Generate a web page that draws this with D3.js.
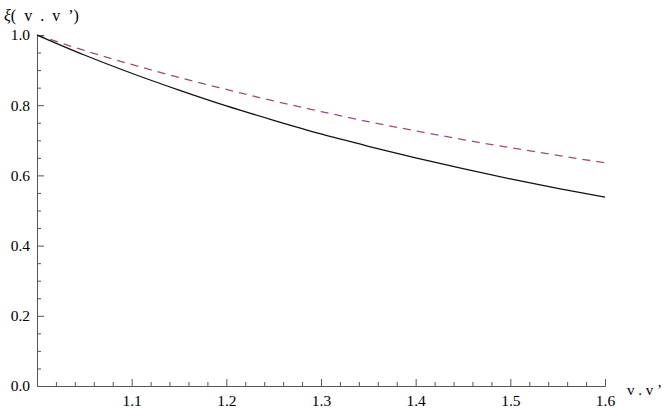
<!DOCTYPE html>
<html>
<head>
<meta charset="utf-8">
<script src="https://cdn.jsdelivr.net/npm/d3@7"></script>
<style>
  html, body { margin: 0; padding: 0; background: #fff; }
  svg { display: block; }
  svg text { font-family: 'Liberation Serif', 'Times New Roman', 'DejaVu Serif', serif !important; }
</style>
</head>
<body>
<svg id="chart" width="664" height="409"></svg>
<script>
// Data
const w = [1.00, 1.05, 1.10, 1.15, 1.20, 1.25, 1.30, 1.35, 1.40, 1.45, 1.50, 1.55, 1.60];
const solidValues  = [1.000, 0.943, 0.891, 0.843, 0.798, 0.757, 0.718, 0.683, 0.650, 0.619, 0.590, 0.563, 0.538];
const dashedValues = [1.000, 0.956, 0.916, 0.879, 0.845, 0.812, 0.782, 0.753, 0.727, 0.702, 0.679, 0.657, 0.636];
const xMajorTicks = [1.1, 1.2, 1.3, 1.4, 1.5, 1.6];
const yMajorTicks = [0.0, 0.2, 0.4, 0.6, 0.8, 1.0];
const xMinorTicks = [1.02,1.04,1.06,1.08,1.12,1.14,1.16,1.18,1.22,1.24,1.26,1.28,1.32,1.34,1.36,1.38,1.42,1.44,1.46,1.48,1.52,1.54,1.56,1.58];
const yMinorTicks = [0.05,0.1,0.15,0.25,0.3,0.35,0.45,0.5,0.55,0.65,0.7,0.75,0.85,0.9,0.95];

const svg = d3.select("#chart");
const x = d3.scaleLinear().domain([1.0, 1.6]).range([37, 605]);
const y = d3.scaleLinear().domain([0, 1]).range([386, 35]);
const axisColor = "#555";
const fmt = d3.format(".1f");

// Minor ticks
const xMinor = svg.append("g").attr("transform", `translate(0,${y(0)})`)
  .call(d3.axisBottom(x).tickValues(xMinorTicks).tickSize(-4).tickFormat("").tickSizeOuter(0));
const yMinor = svg.append("g").attr("transform", `translate(${x(1.0)},0)`)
  .call(d3.axisLeft(y).tickValues(yMinorTicks).tickSize(-4).tickFormat("").tickSizeOuter(0));

// Major axes
const xAxis = svg.append("g").attr("transform", `translate(0,${y(0)})`)
  .call(d3.axisBottom(x).tickValues(xMajorTicks).tickSize(-7).tickSizeOuter(0).tickPadding(9).tickFormat(fmt));
const yAxis = svg.append("g").attr("transform", `translate(${x(1.0)},0)`)
  .call(d3.axisLeft(y).tickValues(yMajorTicks).tickSize(-7).tickSizeOuter(0).tickPadding(7).tickFormat(fmt));

[xMinor, yMinor, xAxis, yAxis].forEach(g => {
  g.attr("font-family", null).attr("font-size", null);
  g.selectAll("path.domain").attr("stroke", axisColor).attr("stroke-width", 1);
  g.selectAll(".tick line").attr("stroke", axisColor).attr("stroke-width", 1);
  g.selectAll("text").attr("fill", "#000").attr("font-size", 15.5);
});

const line = d3.line().x(d => x(d[0])).y(d => y(d[1])).curve(d3.curveMonotoneX);

svg.append("path")
  .datum(w.map((v, i) => [v, dashedValues[i]]))
  .attr("d", line).attr("fill", "none")
  .attr("stroke", "#a24a7e").attr("stroke-width", 1.3)
  .attr("stroke-dasharray", "8,6");

svg.append("path")
  .datum(w.map((v, i) => [v, solidValues[i]]))
  .attr("d", line).attr("fill", "none")
  .attr("stroke", "#111").attr("stroke-width", 1.3);

// Axis labels
const yl = svg.append("text").attr("x", 4).attr("y", 21).attr("font-size", 16)
  .attr("word-spacing", "4px");
yl.append("tspan").attr("font-style", "italic").text("ξ");
yl.append("tspan").text("( v . v ’)");

svg.append("text").attr("x", 627).attr("y", 395).attr("font-size", 15).text("v . v ’");
</script>
</body>
</html>
